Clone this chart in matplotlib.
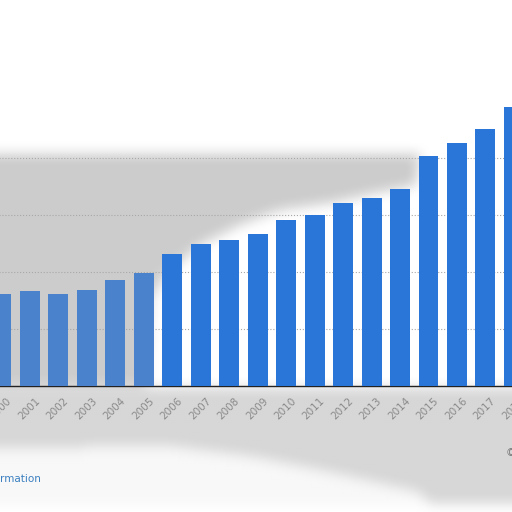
import numpy as np
import matplotlib.pyplot as plt
import matplotlib.transforms as mtransforms
from matplotlib.path import Path

years = [str(y) for y in range(2000, 2019)]
values = [32.3, 33.3, 32.3, 33.7, 37.2, 39.6, 46.3, 49.8, 51.2, 53.3,
          58.2, 60.0, 64.2, 66.0, 69.1, 80.7, 85.3, 90.2, 97.9]
yticks = [0, 20, 40, 60, 80]

fig = plt.figure(figsize=(5.12, 5.12), dpi=100)
fig.patch.set_facecolor('white')

# blurred grey backdrop (pixel space, y from the top)
N = 256
gx, gy = np.meshgrid((np.arange(N) + 0.5) * 512 / N, (np.arange(N) + 0.5) * 512 / N)
pts = np.column_stack([gx.ravel(), gy.ravel()])
shade = np.ones(N * N)

band = Path([(0, 155), (420, 153), (416, 185), (380, 192), (330, 203),
             (280, 210), (240, 225), (200, 245), (165, 275), (150, 300),
             (145, 386), (0, 386)])
shade[band.contains_points(pts)] = 0.80
lower = Path([(0, 388), (512, 388), (512, 503), (0, 503)])
shade[lower.contains_points(pts)] = 0.84
light = Path([(0, 448), (170, 446), (250, 456), (330, 472), (420, 492),
              (430, 503), (0, 503)])
shade[light.contains_points(pts)] = 0.97
shade = shade.reshape(N, N)


def blur(a, w=7, passes=2):
    k = np.ones(w) / w
    p = w // 2
    for _ in range(passes):
        a = np.pad(a, p, mode='edge')
        a = np.apply_along_axis(lambda r: np.convolve(r, k, mode='valid'), 1, a)
        a = np.apply_along_axis(lambda c: np.convolve(c, k, mode='valid'), 0, a)
    return a


shade = np.clip(blur(shade), 0, 1)

bg = fig.add_axes([0, 0, 1, 1], zorder=0)
bg.imshow(shade, extent=[0, 1, 0, 1], aspect='auto', cmap='gray',
          vmin=0, vmax=1, interpolation='bilinear')
bg.axis('off')

ax = fig.add_axes([-0.0305, 0.246, 1.0676, 0.557], zorder=1)
ax.patch.set_alpha(0)

colors = ['#4b82cc'] * 6 + ['#2a75d8'] * 13
x = np.arange(len(years))
ax.bar(x, values, width=0.7, color=colors, zorder=3)

ax.set_xlim(-0.6, 18.6)
ax.set_ylim(0, 100)
ax.set_yticks(yticks)
ax.yaxis.grid(True, linestyle=':', color='#a8a8a8', linewidth=0.8, zorder=0)
ax.tick_params(axis='y', left=False, labelleft=False)
ax.set_xticks(x)
ax.set_xticklabels(years, rotation=45, ha='right', rotation_mode='anchor',
                   fontsize=7.5, color='#8a8a8a')
ax.tick_params(axis='x', length=0, pad=7)
shift = mtransforms.ScaledTranslation(5 / 100, 0, fig.dpi_scale_trans)
for lbl in ax.get_xticklabels():
    lbl.set_transform(lbl.get_transform() + shift)
for side in ['top', 'left', 'right']:
    ax.spines[side].set_visible(False)
ax.spines['bottom'].set_color('#222222')
ax.spines['bottom'].set_linewidth(1.0)

fig.text(0.0, 0.064, 'rmation', fontsize=7.5, color='#3a7fc0', va='center')
fig.text(0.988, 0.115, '©', fontsize=7.5, color='#777777', va='center')

fig.savefig('out.png', dpi=100)
